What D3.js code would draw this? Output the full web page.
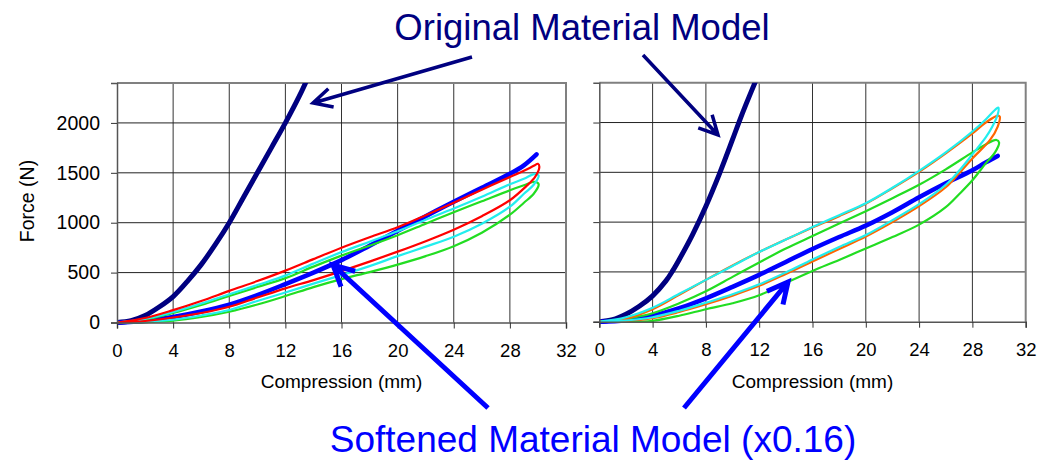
<!DOCTYPE html>
<html>
<head>
<meta charset="utf-8">
<script src="https://cdn.jsdelivr.net/npm/d3@7"></script>
<style>
body { margin: 0; background: #fff; }
svg { display: block; font-family: Arial, "Liberation Sans", sans-serif; }
</style>
</head>
<body>
<svg id="chart" width="1053" height="462"></svg>
<script>
// tick values
var xTicks = [0, 4, 8, 12, 16, 20, 24, 28, 32];
var yTicks = [0, 500, 1000, 1500, 2000];

// left panel, [compression mm, force N]
var leftOriginal = [[0,0],[1,18],[2,70],[3,155],[4,260],[5,410],[6,580],[7,780],[8,1000],[9,1250],[10,1500],[11,1750],[12,2000],[13,2270],[13.5,2420]];
var leftBlue = [[0,0],[2,15],[4,55],[6,110],[8,180],[10,275],[12,385],[14,500],[16,625],[18,770],[20,920],[22,1065],[24,1210],[26,1350],[28,1490],[29,1575],[29.9,1685]];
var leftRed = [[0,0],[2,45],[4,124],[6,215],[8,317],[10,415],[12,520],[14,635],[16,750],[18,855],[20,955],[22,1075],[24,1200],[26,1330],[28,1458],[29,1520],[29.7,1570],[30,1590],[30.1,1560],[29.8,1460],[29.2,1370],[28,1225],[26,1065],[24,930],[22,815],[20,710],[18,610],[16,515],[14,425],[12,342],[10,250],[8,158],[6,95],[4,50],[2,15],[0,0]];
var leftCyan = [[0,0],[2,35],[4,105],[6,190],[8,283],[10,375],[12,470],[14,590],[16,705],[18,810],[20,915],[22,1030],[24,1142],[26,1260],[28,1385],[29,1440],[29.8,1490],[30.05,1470],[29.7,1380],[29,1290],[28,1160],[26,990],[24,860],[22,760],[20,665],[18,565],[16,475],[14,390],[12,300],[10,215],[8,125],[6,70],[4,28],[2,8],[0,0]];
var leftGreen = [[0,0],[2,30],[4,95],[6,175],[8,265],[10,355],[12,445],[14,560],[16,670],[18,770],[20,875],[22,990],[24,1105],[26,1215],[28,1325],[29,1375],[29.8,1410],[30.05,1385],[29.7,1290],[29,1200],[28,1080],[26,900],[24,765],[22,665],[20,580],[18,505],[16,435],[14,355],[12,265],[10,180],[8,108],[6,55],[4,18],[2,4],[0,0]];

// right panel
var rightOriginal = [[0,0],[1,20],[2,75],[3,155],[4,260],[5,410],[5.5,510],[6,625],[7,875],[8,1160],[9,1480],[10,1830],[10.5,2010],[11,2180],[11.9,2470]];
var rightBlue = [[0,0],[2,15],[4,60],[6,135],[8,235],[10,350],[12,470],[14,600],[16,730],[18,850],[20,965],[22,1100],[24,1250],[26,1390],[28,1520],[29,1600],[29.9,1665]];
var rightOrange = [[0,0],[2,30],[4,125],[6,270],[8,420],[10,565],[12,700],[14,825],[16,945],[18,1060],[20,1185],[22,1340],[24,1505],[26,1690],[28,1890],[29,2000],[29.9,2070],[30.05,2060],[29.9,1960],[29.3,1820],[28,1640],[27,1490],[26,1350],[24,1160],[22,1000],[20,855],[18,730],[16,605],[14,480],[12,360],[10,262],[8,175],[6,98],[4,35],[2,8],[0,0]];
var rightCyan = [[0,0],[2,45],[4,140],[6,280],[8,420],[10,560],[12,700],[14,825],[16,950],[18,1070],[20,1190],[22,1345],[24,1515],[26,1700],[28,1910],[29,2030],[29.8,2140],[29.95,2150],[29.9,2080],[29.5,1960],[29,1850],[28,1680],[27,1515],[26,1375],[24,1180],[22,1020],[20,870],[18,750],[16,625],[14,495],[12,375],[10,275],[8,190],[6,110],[4,45],[2,12],[0,0]];
var rightGreen = [[0,0],[2,30],[4,85],[6,185],[8,305],[10,450],[12,595],[14,735],[16,860],[18,985],[20,1110],[22,1240],[24,1375],[26,1530],[28,1700],[29,1780],[29.8,1825],[30,1800],[29.7,1700],[29,1590],[28,1420],[27,1280],[26,1150],[24,975],[22,850],[20,735],[18,620],[16,510],[14,390],[12,265],[10,185],[8,125],[6,60],[4,8],[3,1],[0,0]];

var svg = d3.select("#chart");

var panels = [
  {left: 117, right: 566, top: 83, bottom: 322.5, labels: true,
   series: [
     {data: leftOriginal, color: "#000080", w: 5},
     {data: leftBlue, color: "#0000ff", w: 4.5},
     {data: leftGreen, color: "#22dd22", w: 2.2},
     {data: leftCyan, color: "#22eeee", w: 2.2},
     {data: leftRed, color: "#ff0000", w: 2.2}
   ]},
  {left: 599.3, right: 1025.7, top: 82.7, bottom: 321.7, labels: false,
   series: [
     {data: rightOriginal, color: "#000080", w: 5},
     {data: rightBlue, color: "#0000ff", w: 4.5},
     {data: rightGreen, color: "#22dd22", w: 2.2},
     {data: rightOrange, color: "#ff6600", w: 2.2},
     {data: rightCyan, color: "#22eeee", w: 2.2}
   ]}
];

panels.forEach(function(p, i) {
  var x = d3.scaleLinear().domain([0, 32]).range([p.left, p.right]);
  var y = d3.scaleLinear().domain([0, 2400]).range([p.bottom, p.top]);

  var g = svg.append("g");

  // grid
  g.selectAll(".vg").data(xTicks.slice(1, -1)).enter().append("line")
    .attr("x1", function(d) { return x(d); }).attr("x2", function(d) { return x(d); })
    .attr("y1", p.top).attr("y2", p.bottom)
    .attr("stroke", "#333").attr("stroke-width", 1);
  g.selectAll(".hg").data(yTicks.slice(1)).enter().append("line")
    .attr("x1", p.left).attr("x2", p.right)
    .attr("y1", function(d) { return y(d); }).attr("y2", function(d) { return y(d); })
    .attr("stroke", "#222").attr("stroke-width", 1);

  // top + right border
  g.append("path")
    .attr("d", "M" + p.left + "," + p.top + "H" + p.right + "V" + p.bottom)
    .attr("fill", "none").attr("stroke", "#808080").attr("stroke-width", 2);

  // curves
  var clipId = "clip" + i;
  svg.append("clipPath").attr("id", clipId).append("rect")
    .attr("x", p.left).attr("y", p.top)
    .attr("width", p.right - p.left + 10).attr("height", p.bottom - p.top + 5);

  var line = d3.line()
    .x(function(d) { return x(d[0]); })
    .y(function(d) { return y(d[1]); })
    .curve(d3.curveCatmullRom.alpha(0.5));

  var cg = g.append("g").attr("clip-path", "url(#" + clipId + ")");
  p.series.forEach(function(s) {
    cg.append("path")
      .attr("d", line(s.data))
      .attr("fill", "none")
      .attr("stroke", s.color)
      .attr("stroke-width", s.w)
      .attr("stroke-linejoin", "round")
      .attr("stroke-linecap", "round");
  });

  // axes
  var xAxis = d3.axisBottom(x).tickValues(xTicks).tickSize(6).tickPadding(15);
  var ax = g.append("g").attr("transform", "translate(0," + p.bottom + ")").call(xAxis);
  ax.select(".domain").attr("stroke", "#555").attr("stroke-width", 1.5);
  ax.selectAll(".tick line").attr("stroke", "#333");
  ax.selectAll("text").attr("font-size", 18.5).attr("fill", "#000")
    .attr("font-family", "Arial, 'Liberation Sans', sans-serif");

  var yAxis = d3.axisLeft(y).tickValues(yTicks).tickSize(6).tickPadding(11)
    .tickFormat(p.labels ? d3.format("d") : "");
  var ay = g.append("g").attr("transform", "translate(" + p.left + ",0)").call(yAxis);
  ay.select(".domain").attr("stroke", "#555").attr("stroke-width", 1.5);
  ay.selectAll(".tick line").attr("stroke", "#333");
  ay.selectAll("text").attr("font-size", 19.5).attr("fill", "#000")
    .attr("font-family", "Arial, 'Liberation Sans', sans-serif");

  g.append("text")
    .attr("x", (p.left + p.right) / 2)
    .attr("y", 388)
    .attr("text-anchor", "middle")
    .attr("font-size", 19)
    .text("Compression (mm)");

  if (p.labels) {
    g.append("text")
      .attr("transform", "translate(34,201) rotate(-90)")
      .attr("text-anchor", "middle")
      .attr("font-size", 19.5)
      .text("Force (N)");
  }
});

// titles
svg.append("text")
  .attr("x", 582).attr("y", 40)
  .attr("text-anchor", "middle")
  .attr("font-size", 36.5)
  .attr("fill", "#000080")
  .text("Original Material Model");

svg.append("text")
  .attr("x", 593).attr("y", 452)
  .attr("text-anchor", "middle")
  .attr("font-size", 37)
  .attr("fill", "#0000ff")
  .text("Softened Material Model (x0.16)");

// callout arrows
function arrow(x1, y1, x2, y2, color, w, len) {
  var a = Math.atan2(y1 - y2, x1 - x2), s = 0.47;
  svg.append("path")
    .attr("d", "M" + x1 + "," + y1 + "L" + x2 + "," + y2 +
      "M" + (x2 + len * Math.cos(a - s)) + "," + (y2 + len * Math.sin(a - s)) +
      "L" + x2 + "," + y2 +
      "L" + (x2 + len * Math.cos(a + s)) + "," + (y2 + len * Math.sin(a + s)))
    .attr("fill", "none")
    .attr("stroke", color)
    .attr("stroke-width", w)
    .attr("stroke-linejoin", "miter");
}
arrow(472, 57, 313, 103, "#000080", 3.5, 21);
arrow(643, 55, 718, 135, "#000080", 3.5, 21);
arrow(488, 408, 333, 265, "#0000ff", 5, 23);
arrow(684, 408, 788, 282, "#0000ff", 5, 23);
</script>
</body>
</html>
